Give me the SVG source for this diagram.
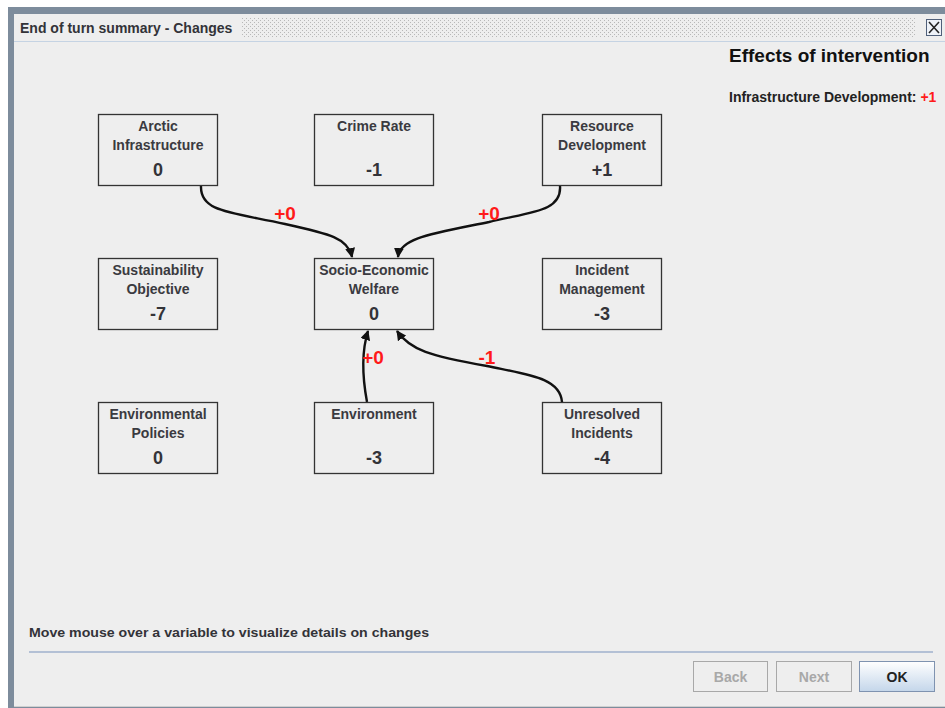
<svg xmlns="http://www.w3.org/2000/svg" width="945" height="708" viewBox="0 0 945 708">
  <defs>
    <pattern id="grip" width="4" height="4" patternUnits="userSpaceOnUse">
      <rect width="4" height="4" fill="#eeeeee"/>
      <rect x="0" y="0" width="1" height="1" fill="#b8b8b8"/>
      <rect x="2" y="2" width="1" height="1" fill="#b8b8b8"/>
    </pattern>
    <linearGradient id="okGrad" x1="0" y1="0" x2="0" y2="1">
      <stop offset="0" stop-color="#ffffff"/>
      <stop offset="1" stop-color="#c4d6ea"/>
    </linearGradient>
    <marker id="arrow" viewBox="0 0 10 10" refX="9" refY="5" markerWidth="10" markerHeight="10" markerUnits="userSpaceOnUse" orient="auto">
      <path d="M0,0 L10,5 L0,10 z" fill="#111"/>
    </marker>
  </defs>
  <style>
    .ui { font-family: "Liberation Sans", Arial, sans-serif; }
    .box { fill: #eeeeee; stroke: #333333; stroke-width: 1.3; }
    .lbl { font-family: "Liberation Sans", Arial, sans-serif; font-size: 14px; font-weight: bold; fill: #3a3a40; text-anchor: middle; }
    .val { font-family: "Liberation Sans", Arial, sans-serif; font-size: 18px; font-weight: bold; fill: #333338; text-anchor: middle; }
    .edge { fill: none; stroke: #111; stroke-width: 2.4; marker-end: url(#arrow); }
    .elbl { font-family: "Liberation Sans", Arial, sans-serif; font-size: 19px; font-weight: bold; fill: #ff1a1a; text-anchor: middle; }
    .btn { fill: #eeeeee; stroke: #a8a8a8; stroke-width: 1; }
    .btnTxt { font-family: "Liberation Sans", Arial, sans-serif; font-size: 14px; font-weight: bold; text-anchor: middle; }
  </style>

  <!-- window frame -->
  <rect x="0" y="0" width="945" height="708" fill="#ffffff"/>
  <rect x="8" y="7" width="937" height="701" fill="#7d8c9c"/>
  <rect x="14" y="14" width="931" height="692" fill="#eeeeee"/>
  <line x1="14" y1="706.5" x2="945" y2="706.5" stroke="#d0d0d0"/>

  <!-- title bar -->
  <g id="titlebar">
    <rect x="14" y="14" width="931" height="27" fill="#eeeeee"/>
    <rect x="241" y="18" width="674" height="19" fill="url(#grip)"/>
    <line x1="14" y1="41.5" x2="945" y2="41.5" stroke="#c5d3e3"/>
    <text x="20" y="33" class="ui" font-size="14" font-weight="bold" fill="#333338">End of turn summary - Changes</text>
    <rect x="926.5" y="19.5" width="15" height="16" fill="#eef2f8" stroke="#50607a"/>
    <path d="M929,22 L939,33 M939,22 L929,33" stroke="#222" stroke-width="1.6"/>
  </g>

  <!-- connectors -->
  <g id="connectors">
    <path class="edge" d="M201,186 C200,212 230,212 285,224 C330,234 348,238 352,257"/>
    <path class="edge" d="M560,186 C562,212 530,212 489,222 C430,234 400,238 398,257"/>
    <path class="edge" d="M367,402 C362,375 362,350 368,331"/>
    <path class="edge" d="M562,402 C560,378 530,375 487,366 C430,356 410,350 397,331"/>
    <text class="elbl" x="285" y="220">+0</text>
    <text class="elbl" x="489" y="220">+0</text>
    <text class="elbl" x="373" y="364">+0</text>
    <text class="elbl" x="487" y="364">-1</text>
  </g>

  <!-- nodes -->
  <g id="arctic-infrastructure">
    <rect class="box" x="98.5" y="114.5" width="119" height="71"/>
    <text class="lbl" x="158" y="131">Arctic</text>
    <text class="lbl" x="158" y="150">Infrastructure</text>
    <text class="val" x="158" y="176">0</text>
  </g>
  <g id="crime-rate">
    <rect class="box" x="314.5" y="114.5" width="119" height="71"/>
    <text class="lbl" x="374" y="131">Crime Rate</text>
    <text class="val" x="374" y="176">-1</text>
  </g>
  <g id="resource-development">
    <rect class="box" x="542.5" y="114.5" width="119" height="71"/>
    <text class="lbl" x="602" y="131">Resource</text>
    <text class="lbl" x="602" y="150">Development</text>
    <text class="val" x="602" y="176">+1</text>
  </g>
  <g id="sustainability-objective">
    <rect class="box" x="98.5" y="258.5" width="119" height="71"/>
    <text class="lbl" x="158" y="275">Sustainability</text>
    <text class="lbl" x="158" y="294">Objective</text>
    <text class="val" x="158" y="320">-7</text>
  </g>
  <g id="socio-economic-welfare">
    <rect class="box" x="314.5" y="258.5" width="119" height="71"/>
    <text class="lbl" x="374" y="275">Socio-Economic</text>
    <text class="lbl" x="374" y="294">Welfare</text>
    <text class="val" x="374" y="320">0</text>
  </g>
  <g id="incident-management">
    <rect class="box" x="542.5" y="258.5" width="119" height="71"/>
    <text class="lbl" x="602" y="275">Incident</text>
    <text class="lbl" x="602" y="294">Management</text>
    <text class="val" x="602" y="320">-3</text>
  </g>
  <g id="environmental-policies">
    <rect class="box" x="98.5" y="402.5" width="119" height="71"/>
    <text class="lbl" x="158" y="419">Environmental</text>
    <text class="lbl" x="158" y="438">Policies</text>
    <text class="val" x="158" y="464">0</text>
  </g>
  <g id="environment">
    <rect class="box" x="314.5" y="402.5" width="119" height="71"/>
    <text class="lbl" x="374" y="419">Environment</text>
    <text class="val" x="374" y="464">-3</text>
  </g>
  <g id="unresolved-incidents">
    <rect class="box" x="542.5" y="402.5" width="119" height="71"/>
    <text class="lbl" x="602" y="419">Unresolved</text>
    <text class="lbl" x="602" y="438">Incidents</text>
    <text class="val" x="602" y="464">-4</text>
  </g>

  <!-- side panel -->
  <g id="effects-panel">
    <text x="729" y="62" class="ui" font-size="19" font-weight="bold" fill="#111">Effects of intervention</text>
    <text x="729" y="102" class="ui" font-size="14" font-weight="bold" fill="#222">Infrastructure Development: <tspan fill="#ff1a1a">+1</tspan></text>
  </g>

  <!-- footer -->
  <g id="footer">
    <text x="29" y="637" class="ui" font-size="13.5" font-weight="bold" fill="#333338" textLength="400" lengthAdjust="spacingAndGlyphs">Move mouse over a variable to visualize details on changes</text>
    <line x1="29" y1="652" x2="933" y2="652" stroke="#9fb0cc" stroke-width="1.5"/>
    <rect class="btn" x="693.5" y="661.5" width="74" height="30"/>
    <text class="btnTxt" x="730.5" y="682" fill="#a8a8a8">Back</text>
    <rect class="btn" x="776.5" y="661.5" width="75" height="30"/>
    <text class="btnTxt" x="814" y="682" fill="#a8a8a8">Next</text>
    <rect x="859.5" y="661.5" width="75" height="30" fill="url(#okGrad)" stroke="#7f93b0"/>
    <text class="btnTxt" x="897" y="682" fill="#222">OK</text>
  </g>
</svg>
